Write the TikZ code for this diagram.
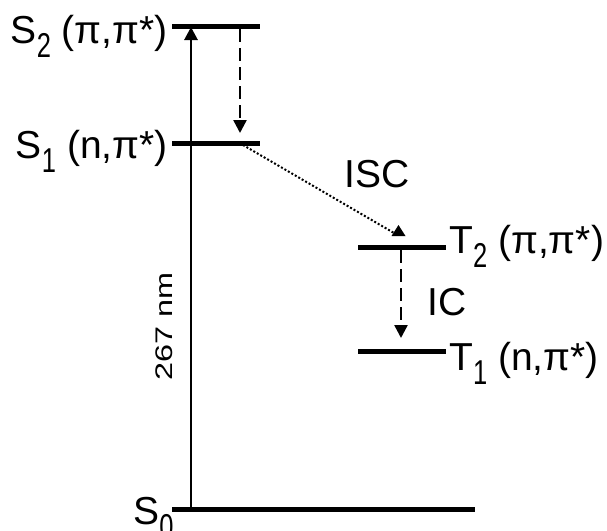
\documentclass[tikz,border=0pt]{standalone}
\usepackage{fontspec}
\setmainfont{Liberation Sans}
\usetikzlibrary{arrows.meta}
\newcommand{\lsub}[1]{\raisebox{-7pt}{\fontsize{15}{15}\selectfont\scalebox{0.85}[1.15]{#1}}}
\begin{document}
\begin{tikzpicture}[x=0.5pt,y=-0.5pt,
  level/.style={line width=2.5pt,line cap=butt},
  lbl/.style={inner sep=0pt,font=\fontsize{19.5}{22}\selectfont},
  tipA/.style={-{Triangle[length=6.5pt,width=6.5pt]}},
  excite/.style={line width=1.4pt,tipA},
  relax/.style={line width=1.2pt,dash pattern=on 6.5pt off 3pt,tipA},
  iscline/.style={line width=1pt,dash pattern=on 1pt off 1pt}]
\useasboundingbox (0,0) rectangle (607,531);
% level ends
\coordinate (S2l) at (172,26.5);
\coordinate (S2r) at (260,26.5);
\coordinate (S1l) at (172,143);
\coordinate (S1r) at (260,143);
\coordinate (T2l) at (358,247.5);
\coordinate (T2r) at (446,247.5);
\coordinate (T1l) at (358,351.5);
\coordinate (T1r) at (446,351.5);
\coordinate (S0l) at (172,509);
\coordinate (S0r) at (475,509);
% levels
\draw[level] (S2l) -- (S2r);
\draw[level] (S1l) -- (S1r);
\draw[level] (T2l) -- (T2r);
\draw[level] (T1l) -- (T1r);
\draw[level] (S0l) -- (S0r);
% excitation
\coordinate (exB) at (191,509);
\coordinate (exT) at (191,27);
\draw[excite] (exB) -- (exT);
% S2 -> S1
\coordinate (icA) at (240,29);
\coordinate (icB) at (240,133);
\draw[relax] (icA) -- (icB);
% ISC
\coordinate (iscA) at (243,145);
\coordinate (iscB) at (394,233);
\draw[iscline] (iscA) -- (iscB);
\coordinate (tA) at (398.5,225);
\coordinate (tB) at (391.5,236);
\coordinate (tC) at (405.5,236);
\fill (tA) -- (tB) -- (tC) -- cycle;
% T2 -> T1
\coordinate (ic2A) at (401,250);
\coordinate (ic2B) at (401,338);
\draw[relax] (ic2A) -- (ic2B);
% labels
\node[lbl,anchor=base east] (S2lab) at (168,43) {S\lsub{2} (π,π*)};
\node[lbl,anchor=base east] (S1lab) at (168,158) {S\lsub{1} (n,π*)};
\node[lbl,anchor=base west] (T2lab) at (449,253) {T\lsub{2} (π,π*)};
\node[lbl,anchor=base west] (T1lab) at (449,370) {T\lsub{1} (n,π*)};
\node[lbl,anchor=base west] (ISC) at (344,187) {ISC};
\node[lbl,anchor=base west] (IC) at (427,315) {IC};
\node[lbl,anchor=base west] (S0lab) at (133,524) {S\lsub{0}};
\node[inner sep=0pt,rotate=90,font=\fontsize{12}{14}\selectfont] (nm) at (164,326) {\scalebox{1.35}[1]{267 nm}};
\end{tikzpicture}
\end{document}
